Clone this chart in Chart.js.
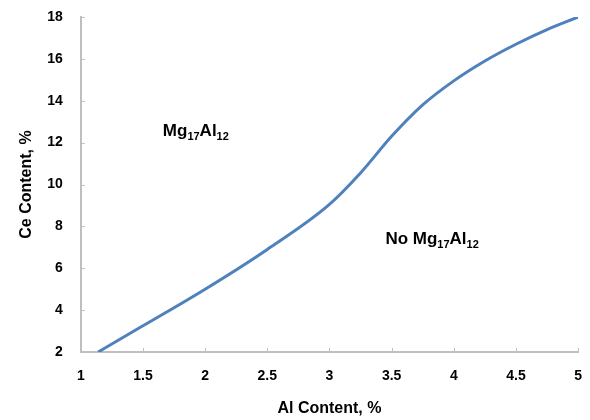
<!DOCTYPE html>
<html>
<head>
<meta charset="utf-8">
<script src="https://cdn.jsdelivr.net/npm/chart.js@4/dist/chart.umd.min.js"></script>
<style>
  html, body { margin: 0; padding: 0; background: #fff; }
  #wrap { width: 590px; height: 420px; }
</style>
</head>
<body>
<div id="wrap"><canvas id="ceChart" width="590" height="420"></canvas></div>
<script>
// values (Al %, Ce %)
var alContent = [1.14, 1.5, 2.0, 2.5, 3.0, 3.25, 3.5, 3.75, 4.0, 4.25, 4.5, 4.75, 5.0];
var ceContent = [2.0, 3.25, 5.0, 6.9, 9.05, 10.55, 12.3, 13.8, 14.95, 15.9, 16.7, 17.4, 18.0];
var xTitle = "Al Content, %";
var yTitle = "Ce Content, %";
// region labels: [main, sub, main, sub] placed at data coords
var regionLabels = [
  { x: 1.66, y: 12.3, parts: ["Mg", "17", "Al", "12"] },
  { x: 3.45, y: 7.15, parts: ["No Mg", "17", "Al", "12"] }
];

var FONT = "'Liberation Sans', Arial, sans-serif";

var pts = [];
for (var i = 0; i < alContent.length; i++) {
  pts.push({ x: alContent[i], y: ceContent[i] });
}

// short inward ticks like the original
var innerTicks = {
  id: 'innerTicks',
  afterDraw: function(chart) {
    var ctx = chart.ctx;
    var xs = chart.scales.x, ys = chart.scales.y;
    var a = chart.chartArea;
    ctx.save();
    ctx.strokeStyle = '#bfbfbf';
    ctx.lineWidth = 1;
    xs.ticks.forEach(function(t) {
      var px = Math.round(xs.getPixelForValue(t.value)) + 0.5;
      ctx.beginPath(); ctx.moveTo(px, a.bottom); ctx.lineTo(px, a.bottom - 4); ctx.stroke();
    });
    ys.ticks.forEach(function(t) {
      var py = Math.round(ys.getPixelForValue(t.value)) + 0.5;
      ctx.beginPath(); ctx.moveTo(a.left, py); ctx.lineTo(a.left + 4, py); ctx.stroke();
    });
    ctx.restore();
  }
};

var regionText = {
  id: 'regionText',
  afterDraw: function(chart) {
    var ctx = chart.ctx;
    var xs = chart.scales.x, ys = chart.scales.y;
    ctx.save();
    ctx.fillStyle = '#000';
    ctx.textBaseline = 'alphabetic';
    regionLabels.forEach(function(r) {
      var px = xs.getPixelForValue(r.x);
      var py = ys.getPixelForValue(r.y);
      r.parts.forEach(function(p, k) {
        if (k % 2 == 0) {
          ctx.font = "bold 17px " + FONT;
          ctx.fillText(p, px, py);
        } else {
          ctx.font = "bold 11px " + FONT;
          ctx.fillText(p, px, py + 4);
        }
        px += ctx.measureText(p).width;
      });
    });
    ctx.restore();
  }
};

new Chart(document.getElementById('ceChart'), {
  type: 'line',
  data: {
    datasets: [{
      data: pts,
      borderColor: '#4f81bd',
      borderWidth: 3,
      pointRadius: 0,
      cubicInterpolationMode: 'monotone',
      fill: false
    }]
  },
  options: {
    responsive: false,
    animation: false,
    layout: { padding: { left: 17, right: 0, top: 17, bottom: 2 } },
    plugins: { legend: { display: false }, tooltip: { enabled: false } },
    scales: {
      x: {
        type: 'linear',
        min: 1, max: 5,
        ticks: {
          stepSize: 0.5, color: '#000', padding: 8,
          font: { family: FONT, size: 14, weight: 'bold' },
          callback: function(v) { return String(v); }
        },
        grid: { display: false },
        border: { display: true, color: '#bfbfbf', width: 2 },
        title: { display: true, text: xTitle, color: '#000', padding: { top: 6, bottom: 0 }, font: { family: FONT, size: 16, weight: 'bold' } }
      },
      y: {
        min: 2, max: 18,
        ticks: { stepSize: 2, color: '#000', padding: 0, font: { family: FONT, size: 14, weight: 'bold' } },
        grid: { display: false, tickLength: 18 },
        border: { display: true, color: '#bfbfbf', width: 2 },
        title: { display: true, text: yTitle, color: '#000', padding: { top: 0, bottom: 11 }, font: { family: FONT, size: 16, weight: 'bold' } }
      }
    }
  },
  plugins: [innerTicks, regionText]
});
</script>
</body>
</html>
